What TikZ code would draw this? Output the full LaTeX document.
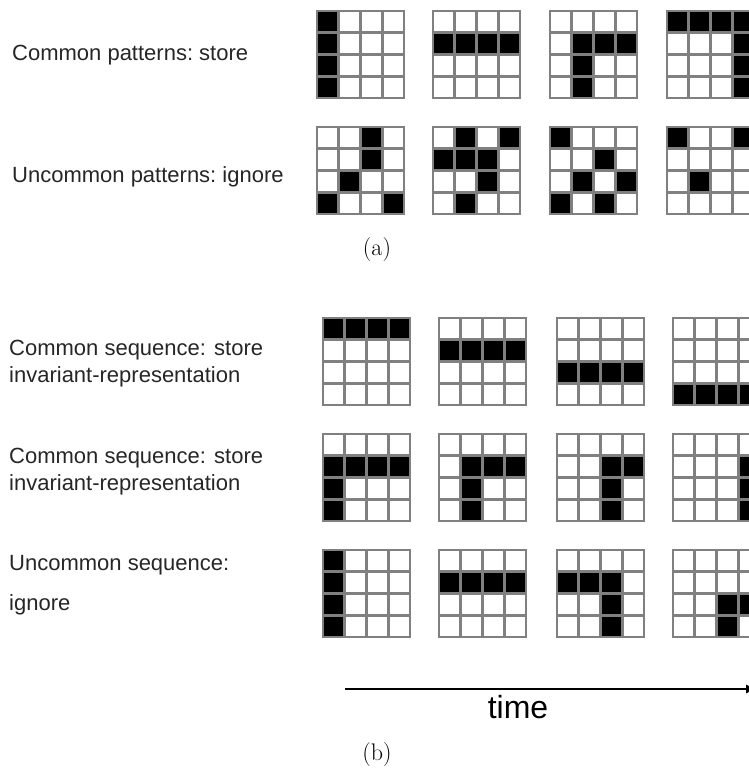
\documentclass[tikz,border=0pt]{standalone}
\usepackage{fontspec}
\usetikzlibrary{arrows.meta}
\newfontfamily\sansfont{Liberation Sans}

% one 4x4 pixel pattern: #1,#2 = top-left corner, #3 = list of black cells col/row
\newcommand\cellgrid[3]{%
  \begin{scope}[shift={(#1,#2)}]
    \foreach \c/\r in {#3}
      \fill[cellon] (\c*21.75,\r*21.75) rectangle ++(21.75,21.75);
    \foreach \i in {1,2,3} {
      \draw[gridline] (\i*21.75,0) -- (\i*21.75,87);
      \draw[gridline] (0,\i*21.75) -- (87,\i*21.75);
    }
    \draw[gridline] (0,0) rectangle (87,87);
  \end{scope}}

\begin{document}
\begin{tikzpicture}[x=1pt,y=-1pt,
  cellon/.style={fill=black},
  gridline/.style={draw=black!50,line width=2.6pt},
  rowlabel/.style={anchor=west,inner sep=0pt,font=\sansfont\fontsize{22}{28}\selectfont,text=black!85,align=left},
  caption/.style={inner sep=0pt,font=\fontsize{24}{28}\selectfont},
  timeline/.style={line width=1.3pt,-{Latex[length=12pt,width=9pt]}}]
\useasboundingbox (0,0) rectangle (749,769);
\clip (0,0) rectangle (749,769);

% ---------- (a) single patterns ----------
\node[rowlabel] (lcp) at (12,55) {Common patterns:\ store};
\node[rowlabel] (lup) at (12,177) {Uncommon patterns:\ ignore};

\cellgrid{317}{11}{0/0,0/1,0/2,0/3}
\cellgrid{433}{11}{0/1,1/1,2/1,3/1}
\cellgrid{550}{11}{1/1,2/1,3/1,1/2,1/3}
\cellgrid{667}{11}{0/0,1/0,2/0,3/0,3/1,3/2,3/3}

\cellgrid{317}{127}{2/0,2/1,1/2,0/3,3/3}
\cellgrid{433}{127}{1/0,3/0,0/1,1/1,2/1,2/2,1/3}
\cellgrid{550}{127}{0/0,2/1,1/2,3/2,0/3,2/3}
\cellgrid{667}{127}{0/0,3/0,1/2}

\node[caption] (capa) at (377,250) {(a)};

% ---------- (b) sequences ----------
\node[rowlabel] (ls1a) at (9,350) {Common sequence: store};
\node[rowlabel] (ls1b) at (9,377) {invariant-representation};
\node[rowlabel] (ls2a) at (9,458) {Common sequence: store};
\node[rowlabel] (ls2b) at (9,485) {invariant-representation};
\node[rowlabel] (ls3a) at (9,565) {Uncommon sequence:};
\node[rowlabel] (ls3b) at (9,605) {ignore};

\cellgrid{323}{318}{0/0,1/0,2/0,3/0}
\cellgrid{439}{318}{0/1,1/1,2/1,3/1}
\cellgrid{557}{318}{0/2,1/2,2/2,3/2}
\cellgrid{673}{318}{0/3,1/3,2/3,3/3}

\cellgrid{323}{434}{0/1,1/1,2/1,3/1,0/2,0/3}
\cellgrid{439}{434}{1/1,2/1,3/1,1/2,1/3}
\cellgrid{557}{434}{2/1,3/1,2/2,2/3}
\cellgrid{673}{434}{3/1,3/2,3/3}

\cellgrid{323}{550}{0/0,0/1,0/2,0/3}
\cellgrid{439}{550}{0/1,1/1,2/1,3/1}
\cellgrid{557}{550}{0/1,1/1,2/1,2/2,2/3}
\cellgrid{673}{550}{2/2,3/2,2/3}

% time axis
\coordinate (tstart) at (345,689);
\coordinate (tend) at (758,689);
\draw[timeline] (tstart) -- (tend);
\node[inner sep=0pt,font=\sansfont\fontsize{32}{36}\selectfont] (tlabel) at (518,707) {time};

\node[caption] (capb) at (377,755) {(b)};
\end{tikzpicture}
\end{document}
